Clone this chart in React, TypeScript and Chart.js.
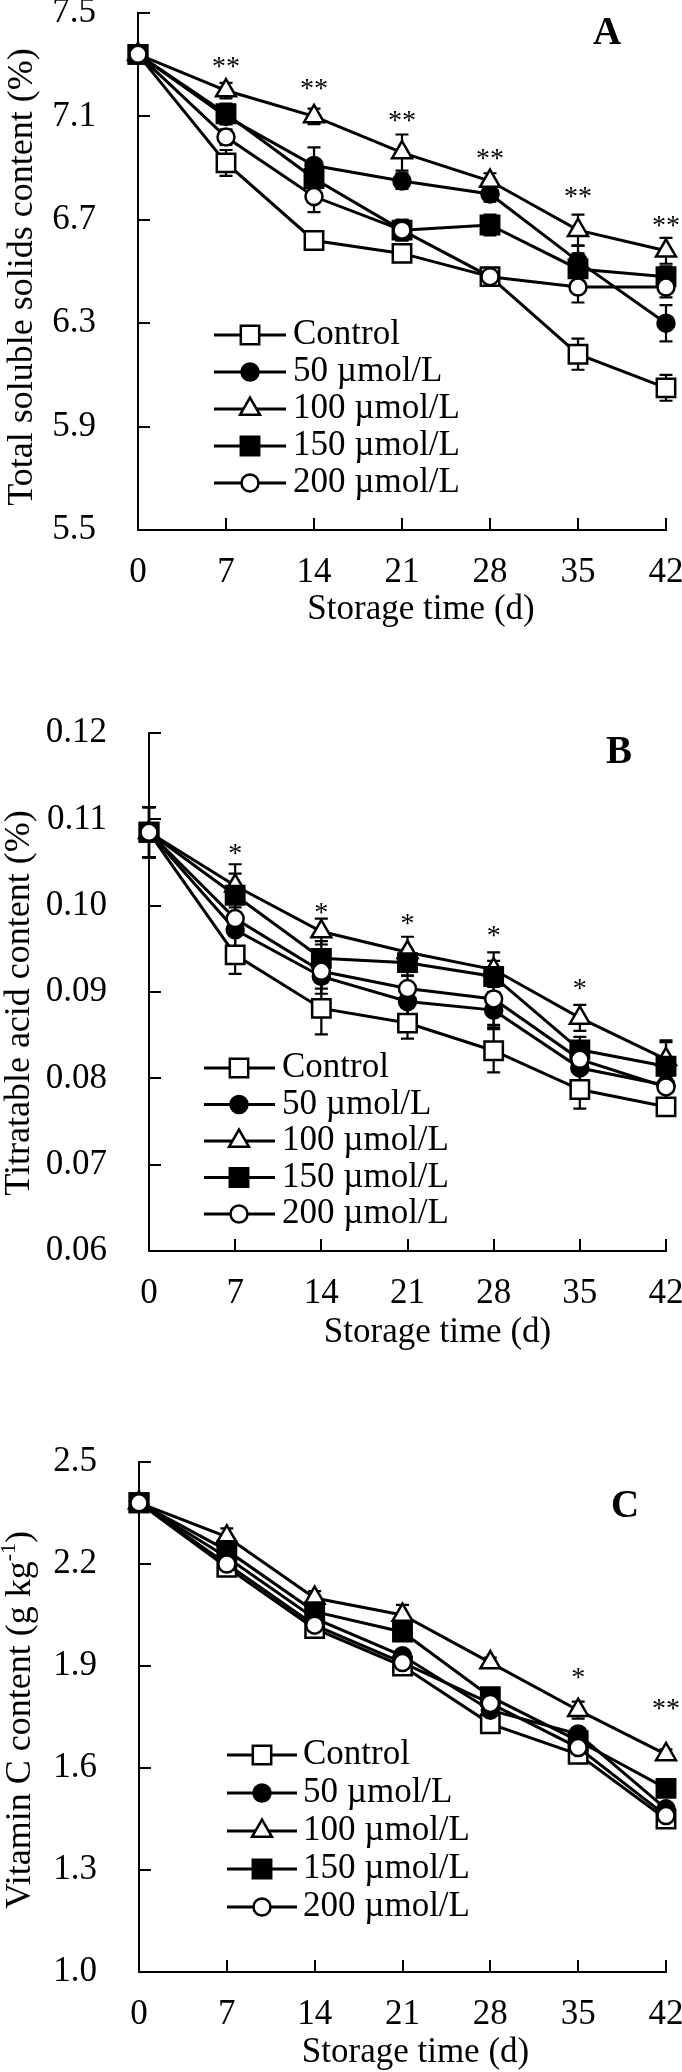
import React, { useEffect, useRef } from 'react';
import { Chart, registerables } from 'chart.js';

Chart.register(...registerables);

const FONT = "'Liberation Serif', 'Times New Roman', serif";

// ---------- shared ----------
const days = [0, 7, 14, 21, 28, 35, 42];
const dayLabels = ['0', '7', '14', '21', '28', '35', '42'];
const seriesNames = ['Control', '50 µmol/L', '100 µmol/L', '150 µmol/L', '200 µmol/L'];

// ---------- Panel A: total soluble solids ----------
const tssControl = [7.34, 6.92, 6.62, 6.57, 6.48, 6.18, 6.05];
const tss50 = [7.34, 7.10, 6.91, 6.85, 6.80, 6.54, 6.30];
const tss100 = [7.34, 7.20, 7.10, 6.96, 6.85, 6.66, 6.58];
const tss150 = [7.34, 7.11, 6.86, 6.66, 6.68, 6.51, 6.48];
const tss200 = [7.34, 7.02, 6.79, 6.66, 6.48, 6.44, 6.44];
const tssErrControl = [0.01, 0.05, 0.02, 0.03, 0.02, 0.06, 0.05];
const tssErr50 = [0.01, 0.03, 0.07, 0.03, 0.03, 0.06, 0.07];
const tssErr100 = [0.01, 0.03, 0.03, 0.07, 0.03, 0.06, 0.05];
const tssErr150 = [0.01, 0.04, 0.04, 0.04, 0.04, 0.06, 0.04];
const tssErr200 = [0.01, 0.03, 0.06, 0.04, 0.03, 0.06, 0.04];
const tssSig = ['', '**', '**', '**', '**', '**', '**'];
const tssSigPos = [null, 7.315, 7.23, 7.105, 6.96, 6.81, 6.70];
const tssTicks = [5.5, 5.9, 6.3, 6.7, 7.1, 7.5];
const tssTickLabels = ['5.5', '5.9', '6.3', '6.7', '7.1', '7.5'];

// ---------- Panel B: titratable acid ----------
const taControl = [0.1085, 0.0943, 0.0881, 0.0864, 0.0832, 0.0787, 0.0767];
const ta50 = [0.1085, 0.0972, 0.0918, 0.0889, 0.0879, 0.0812, 0.0792];
const ta100 = [0.1085, 0.1023, 0.0970, 0.0946, 0.0926, 0.0870, 0.0822];
const ta150 = [0.1085, 0.1012, 0.0939, 0.0934, 0.0918, 0.0833, 0.0814];
const ta200 = [0.1085, 0.0985, 0.0924, 0.0904, 0.0892, 0.0822, 0.0790];
const taErrControl = [0.0029, 0.0022, 0.003, 0.0018, 0.0025, 0.0022, 0.001];
const taErr50 = [0.0029, 0.002, 0.002, 0.0015, 0.002, 0.0015, 0.002];
const taErr100 = [0.0029, 0.0025, 0.0015, 0.0018, 0.002, 0.0015, 0.002];
const taErr150 = [0.0029, 0.0025, 0.002, 0.0015, 0.0018, 0.0015, 0.003];
const taErr200 = [0.0029, 0.002, 0.002, 0.0015, 0.003, 0.0015, 0.002];
const taSig = ['', '*', '*', '*', '*', '*', ''];
const taSigPos = [null, 0.1067, 0.0998, 0.0986, 0.0972, 0.0910, null];
const taTicks = [0.06, 0.07, 0.08, 0.09, 0.10, 0.11, 0.12];
const taTickLabels = ['0.06', '0.07', '0.08', '0.09', '0.10', '0.11', '0.12'];

// ---------- Panel C: vitamin C ----------
const vcControl = [2.38, 2.19, 2.01, 1.90, 1.73, 1.64, 1.45];
const vc50 = [2.38, 2.22, 2.04, 1.93, 1.77, 1.70, 1.48];
const vc100 = [2.38, 2.28, 2.10, 2.05, 1.91, 1.77, 1.64];
const vc150 = [2.38, 2.24, 2.06, 2.00, 1.81, 1.68, 1.54];
const vc200 = [2.38, 2.20, 2.02, 1.91, 1.79, 1.66, 1.46];
const vcErrControl = [0.01, 0.015, 0.015, 0.015, 0.015, 0.015, 0.015];
const vcErr50 = [0.01, 0.015, 0.015, 0.015, 0.015, 0.015, 0.015];
const vcErr100 = [0.01, 0.025, 0.02, 0.03, 0.015, 0.025, 0.015];
const vcErr150 = [0.01, 0.02, 0.02, 0.02, 0.02, 0.02, 0.02];
const vcErr200 = [0.01, 0.015, 0.015, 0.015, 0.015, 0.015, 0.015];
const vcSig = ['', '', '', '', '', '*', '**'];
const vcSigPos = [null, null, null, null, null, 1.883, 1.79];
const vcTicks = [1.0, 1.3, 1.6, 1.9, 2.2, 2.5];
const vcTickLabels = ['1.0', '1.3', '1.6', '1.9', '2.2', '2.5'];

// ---------- series styling ----------
const markerStyles = ['rect', 'circle', 'triangle', 'rect', 'circle'];
const markerFilled = [false, true, false, true, false];
const markerRadius = [13, 8.5, 11.5, 13, 8.5];

type Seg = { t: string; sup?: boolean };

const CANVAS_W = 716;
const CANVAS_H = 730;
const X_AXIS_H = 60;

const panels = [
  {
    key: 'A', letter: 'A',
    values: [tssControl, tss50, tss100, tss150, tss200],
    errors: [tssErrControl, tssErr50, tssErr100, tssErr150, tssErr200],
    yMin: 5.5, yMax: 7.5, yTicks: tssTicks, yTickLabels: tssTickLabels,
    sig: tssSig, sigPos: tssSigPos,
    yTitle: [{ t: 'Total soluble solids content (%)' }] as Seg[],
    box: { canvasTop: -57, plotTop: 13, plotBottom: 530, yAxisWidth: 138 },
    deco: { xTitleDx: 19, xTitleDy: 80, yTitleX: 23, yTitleDy: 5.5, letterDx: -59, letterDy: 21,
      lgX0: 76, lgX1: 148, lgM: 112, lgT: 155, lgY0: 322, lgStep: 37 },
  },
  {
    key: 'B', letter: 'B',
    values: [taControl, ta50, ta100, ta150, ta200],
    errors: [taErrControl, taErr50, taErr100, taErr150, taErr200],
    yMin: 0.06, yMax: 0.12, yTicks: taTicks, yTickLabels: taTickLabels,
    sig: taSig, sigPos: taSigPos,
    yTitle: [{ t: 'Titratable acid content (%)' }] as Seg[],
    box: { canvasTop: 663, plotTop: 733, plotBottom: 1251, yAxisWidth: 149 },
    deco: { xTitleDx: 30, xTitleDy: 82, yTitleX: 20, yTitleDy: 11, letterDx: -47, letterDy: 20,
      lgX0: 55, lgX1: 126, lgM: 90, lgT: 133, lgY0: 335, lgStep: 36.5 },
  },
  {
    key: 'C', letter: 'C',
    values: [vcControl, vc50, vc100, vc150, vc200],
    errors: [vcErrControl, vcErr50, vcErr100, vcErr150, vcErr200],
    yMin: 1.0, yMax: 2.5, yTicks: vcTicks, yTickLabels: vcTickLabels,
    sig: vcSig, sigPos: vcSigPos,
    yTitle: [{ t: 'Vitamin C content (g kg' }, { t: '-1', sup: true }, { t: ')' }] as Seg[],
    box: { canvasTop: 1392, plotTop: 1462, plotBottom: 1972, yAxisWidth: 139 },
    deco: { xTitleDx: 13, xTitleDy: 81, yTitleX: 21, yTitleDy: 3, letterDx: -41, letterDy: 45,
      lgX0: 88, lgX1: 158, lgM: 123, lgT: 164, lgY0: 293, lgStep: 38 },
  },
];

type PanelT = typeof panels[number];

function drawMarker(ctx: CanvasRenderingContext2D, style: string, r: number, x: number, y: number, filled: boolean) {
  ctx.beginPath();
  if (style === 'circle') {
    ctx.arc(x, y, r, 0, Math.PI * 2);
  } else if (style === 'rect') {
    const s = Math.SQRT1_2 * r;
    ctx.rect(x - s, y - s, 2 * s, 2 * s);
  } else {
    let rad = 0;
    ctx.moveTo(x + Math.sin(rad) * r, y - Math.cos(rad) * r);
    rad += (2 * Math.PI) / 3;
    ctx.lineTo(x + Math.sin(rad) * r, y - Math.cos(rad) * r);
    rad += (2 * Math.PI) / 3;
    ctx.lineTo(x + Math.sin(rad) * r, y - Math.cos(rad) * r);
    ctx.closePath();
  }
  ctx.fillStyle = filled ? '#000' : '#fff';
  ctx.fill();
  ctx.lineWidth = 2.5;
  ctx.strokeStyle = '#000';
  ctx.stroke();
}

function decoPlugin(p: PanelT) {
  return {
    id: 'deco' + p.key,
    beforeDatasetsDraw(chart: any) {
      const { ctx } = chart;
      const xs = chart.scales.x;
      const ys = chart.scales.y;
      ctx.save();
      ctx.strokeStyle = '#000';
      ctx.lineWidth = 2.2;
      p.values.forEach((vals, i) => {
        vals.forEach((v, j) => {
          const e = p.errors[i][j];
          if (!e) return;
          const px = xs.getPixelForValue(days[j]);
          const t = ys.getPixelForValue(v + e);
          const b = ys.getPixelForValue(v - e);
          ctx.beginPath();
          ctx.moveTo(px, t); ctx.lineTo(px, b);
          ctx.moveTo(px - 6.5, t); ctx.lineTo(px + 6.5, t);
          ctx.moveTo(px - 6.5, b); ctx.lineTo(px + 6.5, b);
          ctx.stroke();
        });
      });
      ctx.restore();
    },
    afterDraw(chart: any) {
      const { ctx, chartArea } = chart;
      const xs = chart.scales.x;
      const ys = chart.scales.y;
      const d = p.deco;
      ctx.save();
      // inward tick marks
      ctx.strokeStyle = '#000';
      ctx.lineWidth = 2;
      ctx.beginPath();
      days.forEach((v, i) => {
        if (i === 0) return;
        const px = Math.round(xs.getPixelForValue(v));
        ctx.moveTo(px, chartArea.bottom);
        ctx.lineTo(px, chartArea.bottom - 12);
      });
      p.yTicks.forEach((v, i) => {
        if (i === 0) return;
        const py = Math.round(ys.getPixelForValue(v));
        ctx.moveTo(chartArea.left, py);
        ctx.lineTo(chartArea.left + 12, py);
      });
      ctx.stroke();

      // significance marks
      ctx.fillStyle = '#000';
      ctx.font = `28px ${FONT}`;
      ctx.textAlign = 'center';
      ctx.textBaseline = 'alphabetic';
      p.sig.forEach((s, j) => {
        const pos = p.sigPos[j];
        if (!s || pos == null) return;
        ctx.fillText(s, xs.getPixelForValue(days[j]), ys.getPixelForValue(pos) + 14);
      });

      // panel letter
      ctx.font = `bold 39px ${FONT}`;
      ctx.textAlign = 'center';
      ctx.textBaseline = 'middle';
      ctx.fillText(p.letter, chartArea.right + d.letterDx, chartArea.top + d.letterDy);

      // x title
      ctx.font = `35px ${FONT}`;
      ctx.fillText('Storage time (d)', (chartArea.left + chartArea.right) / 2 + d.xTitleDx, chartArea.bottom + d.xTitleDy);

      // y title (rotated, with optional superscript)
      const cy = (chartArea.top + chartArea.bottom) / 2 + d.yTitleDy;
      ctx.save();
      ctx.translate(d.yTitleX, cy);
      ctx.rotate(-Math.PI / 2);
      const mainF = `36px ${FONT}`;
      const supF = `22px ${FONT}`;
      let total = 0;
      const widths = p.yTitle.map((s) => {
        ctx.font = s.sup ? supF : mainF;
        const w = ctx.measureText(s.t).width;
        total += w;
        return w;
      });
      let cx = -total / 2;
      ctx.textAlign = 'left';
      ctx.textBaseline = 'middle';
      p.yTitle.forEach((s, k) => {
        ctx.font = s.sup ? supF : mainF;
        ctx.fillText(s.t, cx, s.sup ? -12 : 0);
        cx += widths[k];
      });
      ctx.restore();

      // legend
      chart.data.datasets.forEach((ds: any, i: number) => {
        const y = chartArea.top + d.lgY0 + i * d.lgStep;
        ctx.strokeStyle = '#000';
        ctx.lineWidth = 3;
        ctx.beginPath();
        ctx.moveTo(chartArea.left + d.lgX0, y);
        ctx.lineTo(chartArea.left + d.lgX1, y);
        ctx.stroke();
        drawMarker(ctx, ds.pointStyle, ds.pointRadius, chartArea.left + d.lgM, y, ds.pointBackgroundColor === '#000');
        ctx.fillStyle = '#000';
        ctx.font = `35px ${FONT}`;
        ctx.textAlign = 'left';
        ctx.textBaseline = 'middle';
        ctx.fillText(ds.label, chartArea.left + d.lgT, y);
      });
      ctx.restore();
    },
  };
}

function makeConfig(p: PanelT): any {
  const tickFont = { family: FONT, size: 35 };
  const padTop = p.box.plotTop - p.box.canvasTop;
  const padBottom = CANVAS_H - (p.box.plotBottom - p.box.canvasTop) - X_AXIS_H;
  return {
    type: 'line',
    data: {
      datasets: p.values.map((vals, i) => ({
        label: seriesNames[i],
        data: vals.map((v, j) => ({ x: days[j], y: v })),
        borderColor: '#000',
        borderWidth: 3,
        pointStyle: markerStyles[i],
        pointRadius: markerRadius[i],
        pointHoverRadius: markerRadius[i],
        pointBackgroundColor: markerFilled[i] ? '#000' : '#fff',
        pointBorderColor: '#000',
        pointBorderWidth: 2.5,
        fill: false,
        tension: 0,
        clip: false,
        order: 4 - i,
      })),
    },
    options: {
      animation: false,
      responsive: false,
      devicePixelRatio: 1,
      events: [],
      layout: { padding: { top: padTop, left: 0, right: CANVAS_W - 666, bottom: padBottom } },
      plugins: { legend: { display: false }, tooltip: { enabled: false } },
      scales: {
        x: {
          type: 'linear', min: 0, max: 42,
          afterBuildTicks: (s: any) => { s.ticks = days.map((v) => ({ value: v })); },
          afterFit: (s: any) => { s.height = X_AXIS_H; },
          ticks: { font: tickFont, color: '#000', padding: 22, maxRotation: 0, autoSkip: false,
            callback: (_v: any, i: number) => dayLabels[i] },
          grid: { display: true, drawOnChartArea: false, drawTicks: false, color: '#000' },
          border: { display: true, color: '#000', width: 2 },
        },
        y: {
          type: 'linear', min: p.yMin, max: p.yMax,
          afterBuildTicks: (s: any) => { s.ticks = p.yTicks.map((v) => ({ value: v })); },
          afterFit: (s: any) => { s.width = p.box.yAxisWidth; },
          ticks: { font: tickFont, color: '#000', padding: 42, autoSkip: false,
            callback: (_v: any, i: number) => p.yTickLabels[i] },
          grid: { display: true, drawOnChartArea: false, drawTicks: false, color: '#000' },
          border: { display: true, color: '#000', width: 2 },
        },
      },
    },
    plugins: [decoPlugin(p)],
  };
}

function PanelChart({ p }: { p: PanelT }) {
  const ref = useRef<HTMLCanvasElement>(null);
  useEffect(() => {
    const chart = new Chart(ref.current as HTMLCanvasElement, makeConfig(p));
    return () => chart.destroy();
  }, [p]);
  return (
    <canvas
      ref={ref}
      width={CANVAS_W}
      height={CANVAS_H}
      style={{ position: 'absolute', left: 0, top: p.box.canvasTop, width: CANVAS_W, height: CANVAS_H }}
    />
  );
}

export default function App() {
  return (
    <div style={{ position: 'absolute', left: 0, top: 0, width: 682, height: 2072, overflow: 'hidden', background: '#fff' }}>
      {panels.map((p) => (
        <PanelChart key={p.key} p={p} />
      ))}
    </div>
  );
}
